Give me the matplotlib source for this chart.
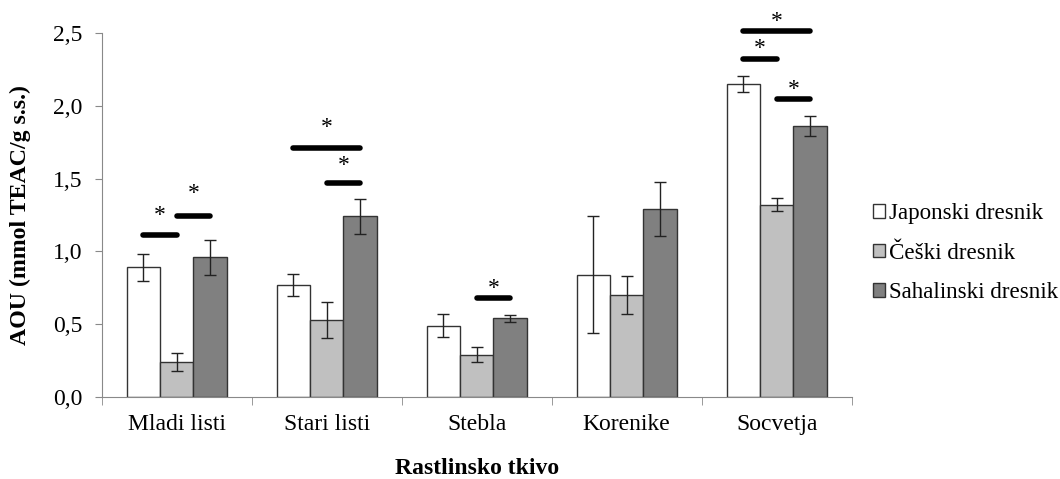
import matplotlib
matplotlib.use("Agg")
import matplotlib.pyplot as plt
import numpy as np
from matplotlib.ticker import FuncFormatter

plt.rcParams['font.family'] = ['Liberation Serif', 'DejaVu Serif']

# data
tkiva = ['Mladi listi', 'Stari listi', 'Stebla', 'Korenike', 'Socvetja']
vrste = ['Japonski dresnik', 'Češki dresnik', 'Sahalinski dresnik']
japonski = [0.89, 0.77, 0.49, 0.84, 2.15]
japonski_err = [0.095, 0.075, 0.08, 0.40, 0.055]
ceski = [0.24, 0.53, 0.29, 0.70, 1.32]
ceski_err = [0.06, 0.125, 0.053, 0.13, 0.045]
sahalinski = [0.96, 1.24, 0.54, 1.29, 1.86]
sahalinski_err = [0.12, 0.12, 0.023, 0.185, 0.07]

# significance marks: (tissue index, species from, species to, line height, star height)
znacilnost = [
    (0, 0, 1, 1.115, 1.27), (0, 1, 2, 1.245, 1.417),
    (1, 0, 2, 1.708, 1.868), (1, 1, 2, 1.468, 1.609),
    (2, 1, 2, 0.682, 0.764),
    (4, 0, 2, 2.516, 2.601), (4, 0, 1, 2.323, 2.411), (4, 1, 2, 2.049, 2.131),
]

barve = ['white', '#c0c0c0', '#808080']
fig = plt.figure(figsize=(10.6, 4.79), dpi=100)
ax = fig.add_axes([0.096, 0.1712, 0.7075, 0.7598])

x = np.arange(len(tkiva))
w = 0.222
serije = [japonski, ceski, sahalinski]
napake = [japonski_err, ceski_err, sahalinski_err]
for k in range(3):
    ax.bar(x + (k - 1) * w, serije[k], w, color=barve[k], edgecolor='#333333',
           linewidth=1.0, label=vrste[k], zorder=2)
    ax.errorbar(x + (k - 1) * w, serije[k], yerr=napake[k], fmt='none',
                ecolor='#222222', elinewidth=1.0, capsize=4, capthick=1.0, zorder=3)

for t, a, b, h, hz in znacilnost:
    x1 = t + (a - 1) * w
    x2 = t + (b - 1) * w
    ax.plot([x1, x2], [h, h], color='black', lw=4, solid_capstyle='round',
            zorder=4, clip_on=False)
    ax.text((x1 + x2) / 2, hz - 0.02, '*', ha='center', va='center',
            fontsize=17, clip_on=False)

ax.set_xlim(-0.5, 4.5)
ax.set_ylim(0, 2.5)
ax.set_yticks(np.arange(0, 2.51, 0.5))
ax.yaxis.set_major_formatter(FuncFormatter(lambda v, p: f'{v:.1f}'.replace('.', ',')))
ax.set_xticks(x)
ax.set_xticklabels(tkiva)
ax.set_xticks(np.arange(-0.5, 4.6, 1), minor=True)
ax.tick_params(axis='x', which='major', length=0, pad=12, labelsize=17)
ax.tick_params(axis='x', which='minor', length=6, color='#898989')
ax.tick_params(axis='y', length=5, color='#898989', labelsize=17, pad=9)

for s in ['top', 'right']:
    ax.spines[s].set_visible(False)
for s in ['left', 'bottom']:
    ax.spines[s].set_color('#898989')

ax.set_ylabel('AOU (mmol TEAC/g s.s.)', fontsize=17.2, fontweight='bold')
ax.yaxis.set_label_coords(-0.094, 0.5)
ax.set_xlabel('Rastlinsko tkivo', fontsize=17, fontweight='bold')
ax.xaxis.set_label_coords(0.5, -0.168)

ax.legend(loc='center left', bbox_to_anchor=(1.028, 0.395), frameon=False,
          fontsize=16.6, handlelength=0.52, handleheight=0.52, handletextpad=0.17,
          labelspacing=0.8, borderpad=0, borderaxespad=0)

fig.savefig('out.png', dpi=100)
